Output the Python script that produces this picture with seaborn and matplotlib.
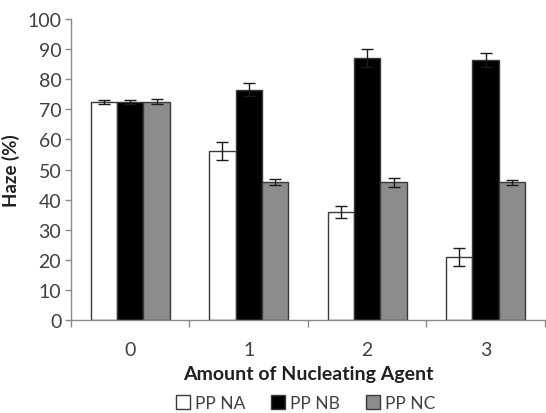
import matplotlib
matplotlib.use("Agg")
import matplotlib.pyplot as plt
import seaborn as sns
import pandas as pd
import numpy as np

# Haze measurements per nucleating-agent loading
amounts = ["0", "1", "2", "3"]
series = ["PP NA", "PP NB", "PP NC"]
haze_na = [72.5, 56.0, 36.0, 21.0]
haze_nb = [72.5, 76.5, 87.0, 86.5]
haze_nc = [72.5, 45.7, 45.7, 45.7]
err_na = [0.7, 3.0, 2.0, 3.0]
err_nb = [0.6, 2.2, 3.0, 2.3]
err_nc = [0.8, 1.0, 1.5, 0.8]

values = [haze_na, haze_nb, haze_nc]
errors = [err_na, err_nb, err_nc]
df = pd.DataFrame({
    "Amount": np.repeat([amounts], 3, axis=0).ravel(),
    "Series": np.repeat(series, len(amounts)),
    "Haze": np.concatenate(values),
})

sns.set_style("white")
plt.rcParams["font.family"] = ["Lato", "DejaVu Sans"]

colors = {"PP NA": "#ffffff", "PP NB": "#000000", "PP NC": "#8c8c8c"}
axis_grey = "#8a8a8a"
text_grey = "#404040"

fig = plt.figure(figsize=(5.46, 4.14), dpi=100)
ax = fig.add_axes([0.130, 0.2246, 0.868, 0.727])

sns.barplot(data=df, x="Amount", y="Haze", hue="Series", order=amounts,
            hue_order=series, palette=colors, width=0.667, gap=0,
            errorbar=None, edgecolor="#3a3a3a", linewidth=1.0,
            legend=False, ax=ax)

# error bars placed on the centre of each bar
for cont, err in zip(ax.containers, errors):
    xs = [p.get_x() + p.get_width() / 2 for p in cont.patches]
    hs = [p.get_height() for p in cont.patches]
    ax.errorbar(xs, hs, yerr=err, fmt="none", ecolor="#1a1a1a",
                elinewidth=1.0, capsize=4, capthick=1.0, zorder=5)

ax.set_xlim(-0.5, 3.5)
ax.set_ylim(0, 100)
ax.set_yticks(np.arange(0, 101, 10))
ax.set_xticks(range(len(amounts)))
ax.set_xticklabels(amounts)
ax.set_xticks(np.arange(-0.5, 3.6, 1.0), minor=True)
ax.tick_params(axis="x", which="major", length=0, pad=15, labelsize=14,
               labelcolor=text_grey)
ax.tick_params(axis="x", which="minor", length=5, width=1, color=axis_grey,
               direction="out", bottom=True)
ax.tick_params(axis="y", length=4, width=1, color=axis_grey, direction="out",
               left=True, labelsize=14, labelcolor=text_grey, pad=3)

for side in ("top", "right"):
    ax.spines[side].set_visible(False)
for side in ("left", "bottom"):
    ax.spines[side].set_color(axis_grey)
    ax.spines[side].set_linewidth(1.0)

ax.set_xlabel("Amount of Nucleating Agent", fontsize=14, fontweight="bold",
              color="#202020", labelpad=5)
ax.set_ylabel("Haze (%)", fontsize=13.5, fontweight="bold", color="#202020",
              labelpad=5)

handles = [plt.Rectangle((0, 0), 1, 1, facecolor=colors[s],
                         edgecolor="#3a3a3a", linewidth=1.0) for s in series]
fig.legend(handles, series, loc="center", bbox_to_anchor=(0.56, 0.024),
           ncol=3, frameon=False, fontsize=12.5, handlelength=0.8,
           handleheight=0.8, handletextpad=0.3, columnspacing=1.5,
           labelcolor=text_grey)

fig.savefig("out.png", dpi=100)
